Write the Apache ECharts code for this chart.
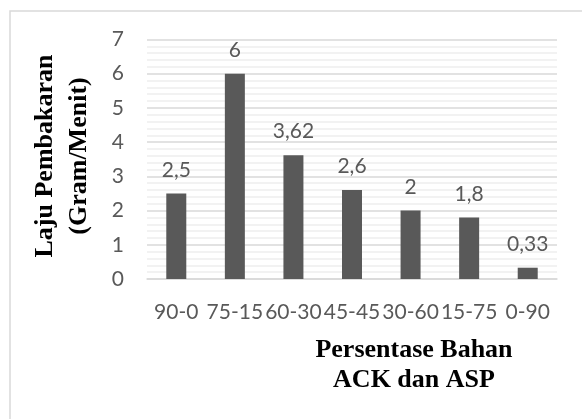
<!DOCTYPE html>
<html>
<head>
<meta charset="utf-8">
<script src="https://cdn.jsdelivr.net/npm/echarts@6/dist/echarts.min.js"></script>
<style>
  html, body { margin: 0; padding: 0; background: #fff; }
  #chart { width: 582px; height: 419px; }
</style>
</head>
<body>
<div id="chart"></div>
<script>
// Burning rate per ACK/ASP mixture ratio
const categories = ['90-0', '75-15', '60-30', '45-45', '30-60', '15-75', '0-90'];
const rates = [2.5, 6, 3.62, 2.6, 2, 1.8, 0.33];
const rateLabels = ['2,5', '6', '3,62', '2,6', '2', '1,8', '0,33'];

const tickFont = 'Lato, "Open Sans", sans-serif';
const titleFont = '"Liberation Serif", "Times New Roman", serif';
const textColor = '#595959';

const chart = echarts.init(document.getElementById('chart'), null, { renderer: 'canvas' });

chart.setOption({
  animation: false,
  backgroundColor: '#ffffff',
  grid: { left: 147, right: 25, top: 39.5, bottom: 140 },
  xAxis: {
    type: 'category',
    data: categories,
    axisLine: { show: true, lineStyle: { color: '#d9d9d9', width: 1.5 } },
    axisTick: { show: false },
    axisLabel: { color: textColor, fontFamily: tickFont, fontSize: 21, margin: 23, interval: 0 }
  },
  yAxis: {
    type: 'value',
    min: 0,
    max: 7,
    interval: 1,
    axisLine: { show: false },
    axisTick: { show: false },
    axisLabel: { color: textColor, fontFamily: tickFont, fontSize: 21, margin: 23 },
    splitLine: { show: true, lineStyle: { color: '#d9d9d9', width: 1.5 } },
    minorTick: { show: false, splitNumber: 5 },
    minorSplitLine: { show: true, lineStyle: { color: '#eeeeee', width: 1.5 } }
  },
  series: [{
    type: 'bar',
    data: rates,
    barWidth: 20,
    itemStyle: { color: '#595959' },
    label: {
      show: true,
      position: 'top',
      distance: 13,
      color: textColor,
      fontFamily: tickFont,
      fontSize: 21,
      formatter: p => rateLabels[p.dataIndex]
    }
  }],
  graphic: [
    {
      type: 'rect',
      shape: { x: 10, y: 11, width: 700, height: 600 },
      style: { fill: 'none', stroke: '#d9d9d9', lineWidth: 1.5 },
      silent: true
    },
    {
      type: 'text',
      x: 62, y: 156,
      rotation: Math.PI / 2,
      style: {
        text: 'Laju Pembakaran\n(Gram/Menit)',
        fill: '#000',
        font: 'bold 26px ' + titleFont,
        textAlign: 'center',
        textVerticalAlign: 'middle',
        lineHeight: 34
      }
    },
    {
      type: 'text',
      x: 414, y: 365,
      style: {
        text: 'Persentase Bahan\nACK dan ASP',
        fill: '#000',
        font: 'bold 26px ' + titleFont,
        textAlign: 'center',
        textVerticalAlign: 'middle',
        lineHeight: 30
      }
    }
  ]
});
</script>
</body>
</html>
